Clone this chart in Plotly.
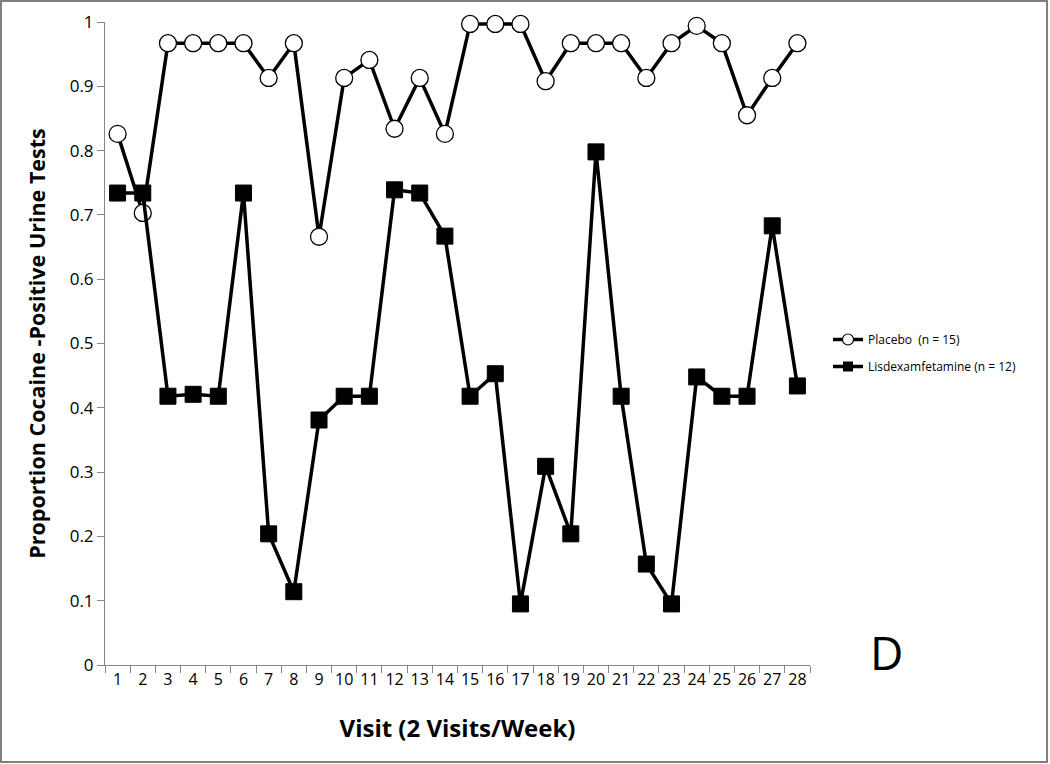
import plotly.graph_objects as go

visits = [str(i) for i in range(1, 29)]
placebo = [0.826, 0.703, 0.967, 0.967, 0.967, 0.967, 0.913, 0.967, 0.666, 0.913,
           0.941, 0.834, 0.913, 0.826, 0.997, 0.997, 0.997, 0.908, 0.967, 0.967,
           0.967, 0.913, 0.967, 0.994, 0.967, 0.855, 0.913, 0.967]
lisdex = [0.734, 0.734, 0.418, 0.421, 0.418, 0.734, 0.204, 0.114, 0.381, 0.418,
          0.418, 0.739, 0.734, 0.667, 0.418, 0.453, 0.095, 0.309, 0.204, 0.798,
          0.418, 0.157, 0.095, 0.448, 0.418, 0.418, 0.683, 0.434]
y_ticks = [0, 0.1, 0.2, 0.3, 0.4, 0.5, 0.6, 0.7, 0.8, 0.9, 1]
y_ticktext = ["0", "0.1", "0.2", "0.3", "0.4", "0.5", "0.6", "0.7", "0.8", "0.9", "1"]
names = ["Placebo  (n = 15)", "Lisdexamfetamine (n = 12)"]

W, H = 1050, 764
ml, mr, mt, mb = 105, 240, 22, 99
pw, ph = W - ml - mr, H - mt - mb
FONT = "Open Sans"

fig = go.Figure()
fig.add_trace(go.Scatter(
    x=visits, y=placebo, mode="lines+markers", name=names[0],
    showlegend=False, cliponaxis=False,
    line=dict(color="black", width=3.5),
    marker=dict(symbol="circle", size=17, color="white", line=dict(color="black", width=1.3)),
))
fig.add_trace(go.Scatter(
    x=visits, y=lisdex, mode="lines+markers", name=names[1],
    showlegend=False, cliponaxis=False,
    line=dict(color="black", width=3.5),
    marker=dict(symbol="square", size=16, color="black", line=dict(color="black", width=1)),
))
# legend-only entries with smaller symbols
fig.add_trace(go.Scatter(
    x=[None], y=[None], mode="lines+markers", name=names[0], legendgroup="a",
    line=dict(color="black", width=3.5),
    marker=dict(symbol="circle", size=11, color="white", line=dict(color="black", width=1.2)),
))
fig.add_trace(go.Scatter(
    x=[None], y=[None], mode="lines+markers", name=names[1], legendgroup="b",
    line=dict(color="black", width=3.5),
    marker=dict(symbol="square", size=10, color="black"),
))

fig.update_layout(
    width=W, height=H,
    margin=dict(l=ml, r=mr, t=mt, b=mb, autoexpand=False),
    paper_bgcolor="white", plot_bgcolor="white",
    font=dict(family=FONT, color="black"),
    showlegend=True,
    legend=dict(x=(828 - ml) / pw, y=(H - mb - 353) / ph, xanchor="left", yanchor="middle",
                font=dict(size=12, family=FONT), tracegroupgap=8,
                traceorder="grouped", itemwidth=30, bgcolor="rgba(0,0,0,0)"),
    xaxis=dict(
        type="category", range=[-0.5, 27.5], automargin=False,
        showline=True, linecolor="#868686", linewidth=1,
        ticks="outside", ticklen=7, tickcolor="#868686", tickson="boundaries",
        showgrid=False, zeroline=False, tickangle=0,
        tickfont=dict(size=16, family=FONT),
        title=dict(text="<b>Visit (2 Visits/Week)</b>", font=dict(size=24, family=FONT), standoff=30),
    ),
    yaxis=dict(
        range=[0, 1], tickvals=y_ticks, ticktext=y_ticktext, automargin=False,
        showline=True, linecolor="#868686", linewidth=1,
        ticks="outside", ticklen=7, tickcolor="#868686",
        showgrid=False, zeroline=False,
        tickfont=dict(size=17, family=FONT),
        title=dict(text="<b>Proportion Cocaine -Positive Urine Tests</b>", font=dict(size=21.5, family=FONT), standoff=18),
    ),
)

fig.add_annotation(text="D", xref="paper", yref="paper",
                   x=(886 - ml) / pw, y=(H - mb - 652) / ph,
                   xanchor="center", yanchor="middle",
                   showarrow=False, font=dict(size=46, family=FONT, color="black"))

fig.add_shape(type="rect", xref="paper", yref="paper",
              x0=(1 - ml) / pw, x1=(W - 3 - ml) / pw,
              y0=(-(H - 2 - mt - ph)) / ph, y1=(ph + mt - 1) / ph,
              line=dict(color="#7f7f7f", width=2), fillcolor="rgba(0,0,0,0)", layer="below")

fig.write_html("out.html", config={"displayModeBar": False},
               post_script="document.body.style.margin='0px';")
